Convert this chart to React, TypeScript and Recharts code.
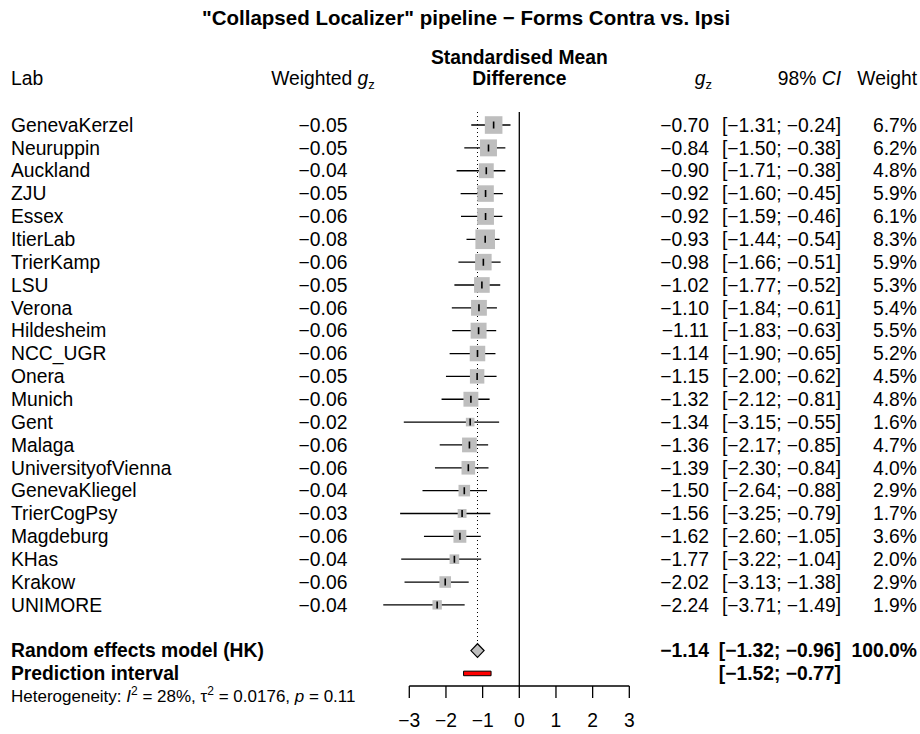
import React from 'react';
import { ComposedChart, Scatter, ErrorBar, XAxis, YAxis, ReferenceLine, ReferenceArea } from 'recharts';

const labs = [
  'GenevaKerzel', 'Neuruppin', 'Auckland', 'ZJU', 'Essex', 'ItierLab', 'TrierKamp', 'LSU',
  'Verona', 'Hildesheim', 'NCC_UGR', 'Onera', 'Munich', 'Gent', 'Malaga', 'UniversityofVienna',
  'GenevaKliegel', 'TrierCogPsy', 'Magdeburg', 'KHas', 'Krakow', 'UNIMORE'
];
const weightedGz = [
  -0.05, -0.05, -0.04, -0.05, -0.06, -0.08, -0.06, -0.05, -0.06, -0.06, -0.06,
  -0.05, -0.06, -0.02, -0.06, -0.06, -0.04, -0.03, -0.06, -0.04, -0.06, -0.04
];
const gz = [
  -0.70, -0.84, -0.90, -0.92, -0.92, -0.93, -0.98, -1.02, -1.10, -1.11, -1.14,
  -1.15, -1.32, -1.34, -1.36, -1.39, -1.50, -1.56, -1.62, -1.77, -2.02, -2.24
];
const ciLower = [
  -1.31, -1.50, -1.71, -1.60, -1.59, -1.44, -1.66, -1.77, -1.84, -1.83, -1.90,
  -2.00, -2.12, -3.15, -2.17, -2.30, -2.64, -3.25, -2.60, -3.22, -3.13, -3.71
];
const ciUpper = [
  -0.24, -0.38, -0.38, -0.45, -0.46, -0.54, -0.51, -0.52, -0.61, -0.63, -0.65,
  -0.62, -0.81, -0.55, -0.85, -0.84, -0.88, -0.79, -1.05, -1.04, -1.38, -1.49
];
const weights = [
  6.7, 6.2, 4.8, 5.9, 6.1, 8.3, 5.9, 5.3, 5.4, 5.5, 5.2,
  4.5, 4.8, 1.6, 4.7, 4.0, 2.9, 1.7, 3.6, 2.0, 2.9, 1.9
];
const pooled = { est: -1.14, lo: -1.32, hi: -0.96, weight: 100.0 };
const predInterval = { lo: -1.52, hi: -0.77 };
const xTicks = [-3, -2, -1, 0, 1, 2, 3];

const W = 920;
const H = 734;
const FONT = '"Liberation Sans", Arial, Helvetica, sans-serif';
const FS = 19.3;
const FS_HET = 17;

// plotting window
const ZERO_X = 519.3;
const PX_PER_UNIT = 36.67;
const X_MIN = -4;
const X_MAX = 4;
const PLOT_LEFT = ZERO_X + X_MIN * PX_PER_UNIT;
const PLOT_RIGHT = ZERO_X + X_MAX * PX_PER_UNIT;
const PLOT_TOP = 112;
const PLOT_BOTTOM = 686;
const Y_MIN = 0.43;
const Y_MAX = 25.55;
const POOLED_ROW = labs.length + 2;
const PRED_ROW = labs.length + 3;
const HET_ROW = labs.length + 4;

// text columns
const COL_LAB = 11;
const COL_WGZ = 323;
const COL_GZ = 709;
const COL_CI = 841;
const COL_W = 917;

const rowY = (r: number) => PLOT_TOP + ((r - Y_MIN) / (Y_MAX - Y_MIN)) * (PLOT_BOTTOM - PLOT_TOP);
const fmt = (v: number) => (v < 0 ? '\u2212' : '') + Math.abs(v).toFixed(2);
const fmtTick = (v: number) => (v < 0 ? '\u2212' + Math.abs(v) : String(v));
const fmtCI = (lo: number, hi: number) => `[${fmt(lo)}; ${fmt(hi)}]`;

const studies = labs.map((lab, i) => ({
  lab,
  x: gz[i],
  y: i + 1,
  err: [gz[i] - ciLower[i], ciUpper[i] - gz[i]],
  w: weights[i],
}));

const BoxShape = (props: any) => {
  const { cx, cy, payload } = props;
  const s = 6.8 * Math.sqrt(payload.w);
  return <rect x={cx - s / 2} y={cy - s / 2} width={s} height={s} fill="#bebebe" />;
};

const TickShape = (props: any) => {
  const { cx, cy } = props;
  return <line x1={cx} x2={cx} y1={cy - 3.5} y2={cy + 3.5} stroke="#000" strokeWidth={1.6} />;
};

const DiamondShape = (props: any) => {
  const { x, y, width, height } = props;
  const pts = [
    [x, y + height / 2],
    [x + width / 2, y],
    [x + width, y + height / 2],
    [x + width / 2, y + height],
  ].map((p) => p.join(',')).join(' ');
  return <polygon points={pts} fill="#bebebe" stroke="#000" strokeWidth={1.2} />;
};

function Texts() {
  const t = { fontFamily: FONT, fontSize: FS, fill: '#000' } as const;
  return (
    <svg width={W} height={H} style={{ position: 'absolute', left: 0, top: 0, pointerEvents: 'none' }}>
      <text x={202} y={18} dy="0.35em" {...t} fontSize={20.5} fontWeight="bold">
        "Collapsed Localizer" pipeline − Forms Contra vs. Ipsi
      </text>
      <text x={ZERO_X} y={57} dy="0.35em" textAnchor="middle" {...t} fontWeight="bold">Standardised Mean</text>
      <text x={ZERO_X} y={78} dy="0.35em" textAnchor="middle" {...t} fontWeight="bold">Difference</text>
      <text x={COL_LAB} y={78} dy="0.35em" {...t}>Lab</text>
      <text x={COL_WGZ} y={78} dy="0.35em" textAnchor="middle" {...t}>
        Weighted <tspan fontStyle="italic">g</tspan><tspan fontSize={13} dy={4}>z</tspan>
      </text>
      <text x={COL_GZ + 3} y={78} dy="0.35em" textAnchor="end" {...t}>
        <tspan fontStyle="italic">g</tspan><tspan fontSize={13} dy={4}>z</tspan>
      </text>
      <text x={COL_CI} y={78} dy="0.35em" textAnchor="end" {...t}>
        98% <tspan fontStyle="italic">CI</tspan>
      </text>
      <text x={COL_W} y={78} dy="0.35em" textAnchor="end" {...t}>Weight</text>

      {studies.map((s, i) => (
        <g key={s.lab}>
          <text x={COL_LAB} y={rowY(s.y)} dy="0.35em" {...t}>{s.lab}</text>
          <text x={COL_WGZ} y={rowY(s.y)} dy="0.35em" textAnchor="middle" {...t}>{fmt(weightedGz[i])}</text>
          <text x={COL_GZ} y={rowY(s.y)} dy="0.35em" textAnchor="end" {...t}>{fmt(gz[i])}</text>
          <text x={COL_CI} y={rowY(s.y)} dy="0.35em" textAnchor="end" {...t}>{fmtCI(ciLower[i], ciUpper[i])}</text>
          <text x={COL_W} y={rowY(s.y)} dy="0.35em" textAnchor="end" {...t}>{weights[i].toFixed(1)}%</text>
        </g>
      ))}

      <text x={COL_LAB} y={rowY(POOLED_ROW)} dy="0.35em" {...t} fontWeight="bold">Random effects model (HK)</text>
      <text x={COL_GZ} y={rowY(POOLED_ROW)} dy="0.35em" textAnchor="end" {...t} fontWeight="bold">{fmt(pooled.est)}</text>
      <text x={COL_CI} y={rowY(POOLED_ROW)} dy="0.35em" textAnchor="end" {...t} fontWeight="bold">{fmtCI(pooled.lo, pooled.hi)}</text>
      <text x={COL_W} y={rowY(POOLED_ROW)} dy="0.35em" textAnchor="end" {...t} fontWeight="bold">{pooled.weight.toFixed(1)}%</text>
      <text x={COL_LAB} y={rowY(PRED_ROW)} dy="0.35em" {...t} fontWeight="bold">Prediction interval</text>
      <text x={COL_CI} y={rowY(PRED_ROW)} dy="0.35em" textAnchor="end" {...t} fontWeight="bold">{fmtCI(predInterval.lo, predInterval.hi)}</text>
      <text x={COL_LAB} y={rowY(HET_ROW)} dy="0.35em" {...t} fontSize={FS_HET}>
        Heterogeneity: <tspan fontStyle="italic">I</tspan><tspan fontSize={12} dy={-7}>2</tspan>
        <tspan dy={7}> = 28%, τ</tspan><tspan fontSize={12} dy={-7}>2</tspan>
        <tspan dy={7}> = 0.0176, </tspan><tspan fontStyle="italic">p</tspan><tspan> = 0.11</tspan>
      </text>
    </svg>
  );
}

export default function App() {
  return (
    <div style={{ position: 'absolute', left: 0, top: 0, width: W, height: H, background: '#fff' }}>
      <ComposedChart
        width={W}
        height={H}
        margin={{ top: PLOT_TOP, bottom: 0, left: PLOT_LEFT, right: W - PLOT_RIGHT }}
      >
        <XAxis
          type="number"
          dataKey="x"
          domain={[X_MIN, X_MAX]}
          allowDataOverflow
          ticks={xTicks}
          interval={0}
          axisLine={false}
          tickLine={{ stroke: '#000', strokeWidth: 1.3 }}
          tickSize={12}
          tickMargin={15}
          height={H - PLOT_BOTTOM}
          tick={{ fontSize: FS, fill: '#000', fontFamily: FONT }}
          tickFormatter={fmtTick}
        />
        <YAxis type="number" dataKey="y" hide reversed domain={[Y_MIN, Y_MAX]} allowDataOverflow width={0} />

        <ReferenceLine
          segment={[{ x: xTicks[0], y: Y_MAX }, { x: xTicks[xTicks.length - 1], y: Y_MAX }]}
          stroke="#000"
          strokeWidth={1.3}
          ifOverflow="visible"
        />
        <ReferenceLine x={0} stroke="#000" strokeWidth={1.3} />
        <ReferenceLine
          segment={[{ x: pooled.est, y: Y_MIN }, { x: pooled.est, y: POOLED_ROW - 0.3 }]}
          stroke="#000"
          strokeWidth={1}
          strokeDasharray="1 3"
        />

        <Scatter data={studies} shape={<BoxShape />} isAnimationActive={false} />
        <Scatter data={studies} shape={<TickShape />} isAnimationActive={false}>
          <ErrorBar dataKey="err" direction="x" width={0} stroke="#000" strokeWidth={1.3} />
        </Scatter>

        <ReferenceArea
          x1={pooled.lo}
          x2={pooled.hi}
          y1={POOLED_ROW - 0.3}
          y2={POOLED_ROW + 0.3}
          shape={<DiamondShape />}
        />
        <ReferenceArea
          x1={predInterval.lo}
          x2={predInterval.hi}
          y1={PRED_ROW - 0.1}
          y2={PRED_ROW + 0.1}
          fill="#ff0000"
          fillOpacity={1}
          stroke="#000"
          strokeWidth={1}
        />
      </ComposedChart>
      <Texts />
    </div>
  );
}
